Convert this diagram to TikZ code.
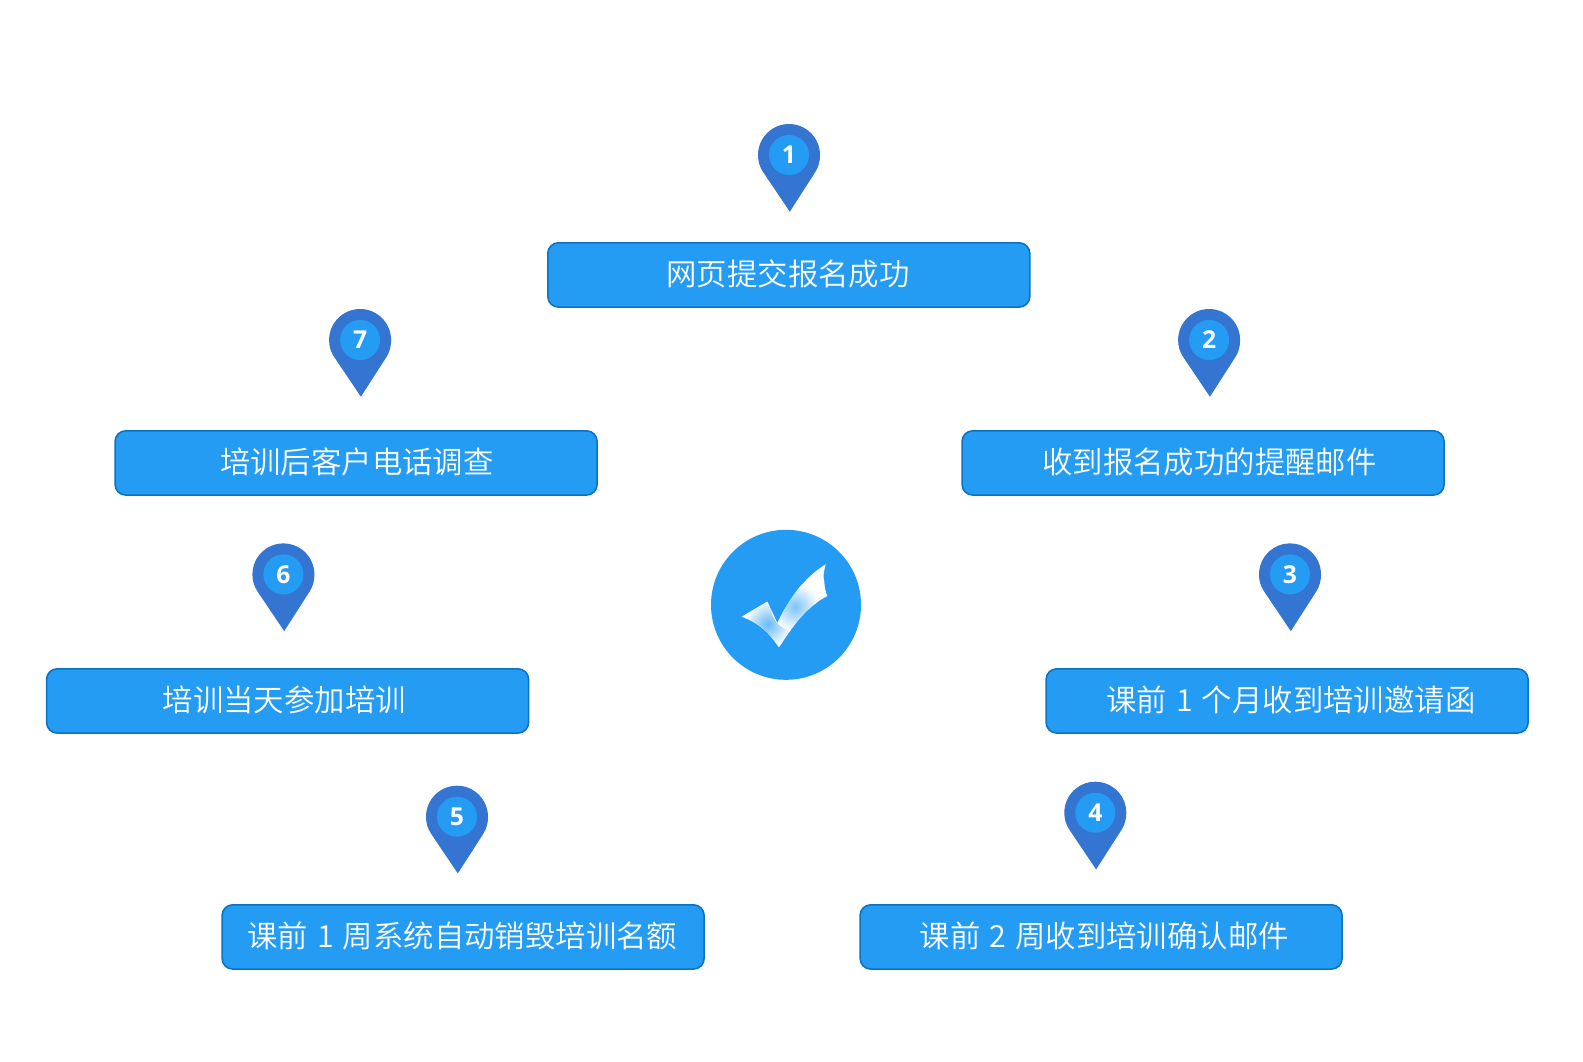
\documentclass[tikz,border=0pt]{standalone}
\usepackage{fontspec}
\setmainfont{Noto Sans CJK SC DemiLight}
\newfontfamily\digitfont{Open Sans}[BoldFont={Open Sans Bold}]
\definecolor{boxblue}{HTML}{259CF4}
\definecolor{boxedge}{HTML}{0C72C2}
\definecolor{pinblue}{HTML}{3375D0}
\newcommand{\numgap}[1]{\hspace{1.6pt} #1 \hspace{1.6pt}}
\tikzset{
  stepbox/.style={draw=boxedge,line width=1.2pt,fill=boxblue,rounded corners=8pt,minimum width=361.5pt,minimum height=48.2pt,inner sep=0pt,anchor=north west},
  steptext/.style={text=white,font=\fontsize{22.8pt}{26pt}\selectfont,inner sep=0pt,anchor=center},
  pin/.pic={
    \fill[pinblue] (0.8,56.7) -- (-25.8,17.2) .. controls (-29.6,11.5) and (-31,6) .. (-31,0) arc[start angle=180,end angle=360,radius=31] .. controls (31,6) and (29.8,11.5) .. (26.2,17.2) -- cycle;
    \node[circle,fill=boxblue,minimum size=30pt,inner sep=0pt,text=white,font=\digitfont\bfseries\fontsize{18.5pt}{22pt}\selectfont] (num) at (0,0) {#1};
  }
}
\begin{document}
\begin{tikzpicture}[x=0.75pt,y=-0.75pt]
\useasboundingbox (0,0) rectangle (1583,1061);
\node[stepbox] (b1) at (547,242) {};
\node[stepbox] (b7) at (114.3,430) {};
\node[stepbox] (b2) at (961.3,430) {};
\node[stepbox] (b6) at (45.8,668) {};
\node[stepbox] (b3) at (1045.3,668) {};
\node[stepbox] (b5) at (221.3,904) {};
\node[stepbox] (b4) at (859.3,904) {};
\node[steptext] (t1) at (788,274) {网页提交报名成功};
\node[steptext] (t7) at (356.8,462) {培训后客户电话调查};
\node[steptext] (t2) at (1209.4,462.4) {收到报名成功的提醒邮件};
\node[steptext] (t6) at (284.2,699.6) {培训当天参加培训};
\node[steptext] (t3) at (1291,699.6) {课前\numgap{1}个月收到培训邀请函};
\node[steptext] (t5) at (462.4,935.8) {课前\numgap{1}周系统自动销毁培训名额};
\node[steptext] (t4) at (1104.4,935.8) {课前\numgap{2}周收到培训确认邮件};
\pic (p1) at (789,155) {pin=1};
\pic (p7) at (360.1,340) {pin=7};
\pic (p2) at (1209.1,340) {pin=2};
\pic (p6) at (283.4,574.4) {pin=6};
\pic (p3) at (1290,574.4) {pin=3};
\pic (p5) at (457,816.7) {pin=5};
\pic (p4) at (1095.3,812.7) {pin=4};
\node[circle,fill=boxblue,minimum size=112.5pt,inner sep=0pt] (c) at (786,604.8) {};
% check mark
\begin{scope}
\clip (741.7,616.7) -- (767.3,601.7) -- (777.3,623.3)
  .. controls (790,597) and (805,577) .. (825.7,564.3)
  .. controls (823.5,572) and (823,577) .. (824.3,581.7)
  .. controls (824.5,587) and (825.5,592) .. (827.3,596)
  .. controls (808,606) and (795,622) .. (779,647.3)
  .. controls (768,631) and (757,622) .. (741.7,616.7) -- cycle;
\fill[white] (730,555) rectangle (835,655);
\shade[inner color=boxblue!70!white,outer color=white] (768,624) circle[radius=24];
\shade[inner color=boxblue!60!white,outer color=white] (795,607) circle[radius=24];
\end{scope}
\end{tikzpicture}
\end{document}
